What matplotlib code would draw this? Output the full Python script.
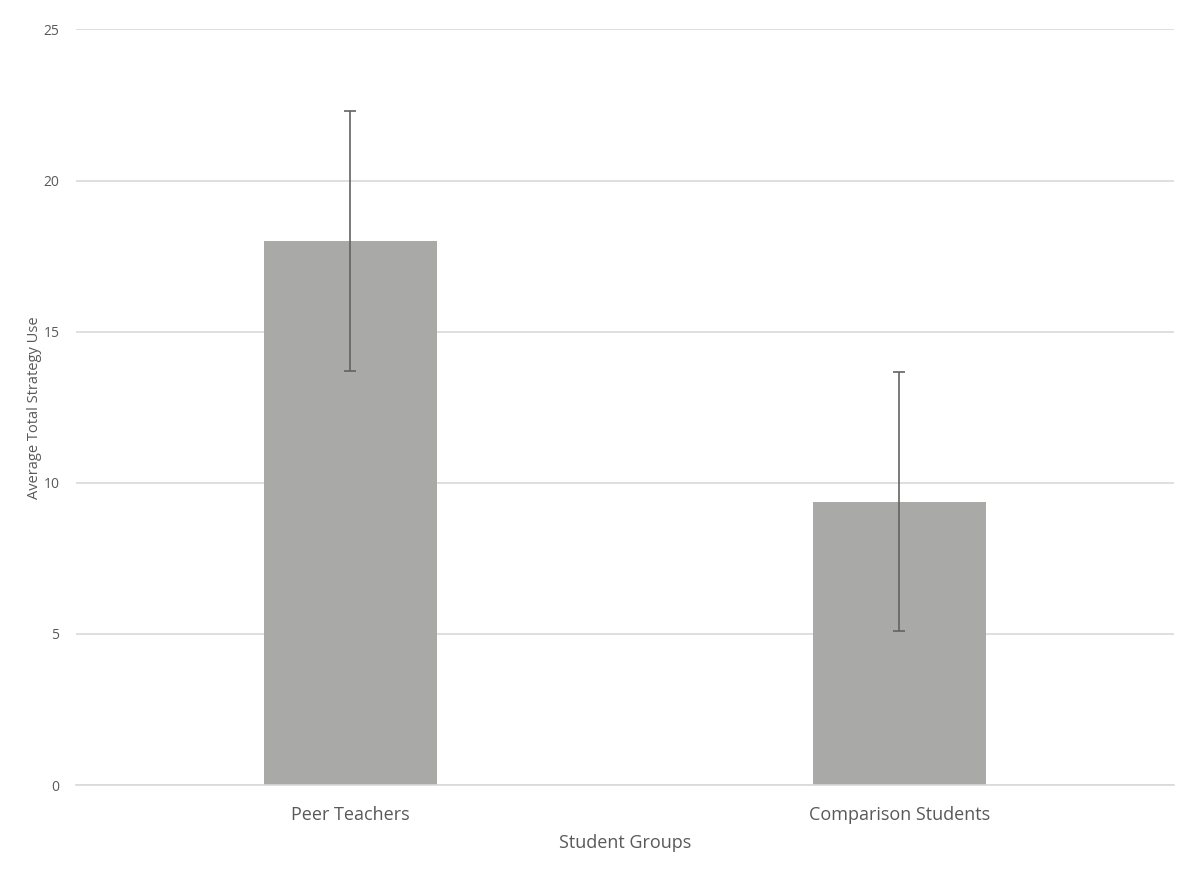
import matplotlib
matplotlib.use('Agg')
import matplotlib.pyplot as plt

# data
groups = ['Peer Teachers', 'Comparison Students']
means = [18.0, 9.38]
errors = [4.3, 4.3]
yticks = [0, 5, 10, 15, 20, 25]

plt.rcParams['font.family'] = ['Open Sans', 'DejaVu Sans']

fig = plt.figure(figsize=(12, 8.77), dpi=100)
ax = fig.add_axes([0.0633, 0.1049, 0.9147, 0.8615])

x = list(range(len(groups)))
ax.bar(x, means, width=0.315, color='#a9a9a8', zorder=2)
ax.errorbar(x, means, yerr=errors, fmt='none', ecolor='#636363',
            elinewidth=1.2, capsize=4, capthick=1.2, zorder=3)

# axes styling
ax.set_xlim(-0.5, 1.5)
ax.set_ylim(0, 25)
ax.set_yticks(yticks)
ax.grid(axis='y', color='#d9d9d9', linewidth=1.2, zorder=0)
for s in ['top', 'right', 'left']:
    ax.spines[s].set_visible(False)
ax.spines['bottom'].set_color('#d9d9d9')
ax.spines['bottom'].set_linewidth(1.2)
ax.tick_params(axis='both', length=0, colors='#595959')
ax.tick_params(axis='y', labelsize=10, pad=12)
ax.tick_params(axis='x', labelsize=13, pad=15)
ax.set_xticks(x)
ax.set_xticklabels(groups)

ax.set_xlabel('Student Groups', fontsize=13, color='#595959', labelpad=7)
ax.set_ylabel('Average Total Strategy Use', fontsize=10.5, color='#595959')
ax.yaxis.set_label_coords(-0.031, 0.5)

fig.savefig('out.png', dpi=100)
